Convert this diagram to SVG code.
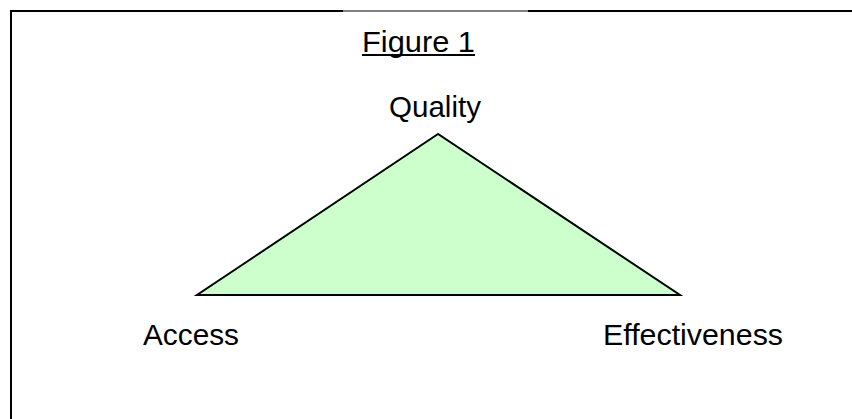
<svg xmlns="http://www.w3.org/2000/svg" width="852" height="419" viewBox="0 0 852 419">
<style>
.lbl{font-family:"Liberation Sans",Arial,sans-serif;font-size:30px;fill:#000}
.frame{fill:none;stroke:#000;stroke-width:2}
</style>
<rect width="852" height="419" fill="#fff"/>
<g id="frame">
<polyline class="frame" points="11,419 11,11 343,11"/>
<line x1="343" y1="11" x2="528" y2="11" stroke="#000" stroke-width="1"/>
<line class="frame" x1="528" y1="11" x2="852" y2="11"/>
</g>
<g id="title">
<text class="lbl" x="362" y="52" textLength="113" lengthAdjust="spacingAndGlyphs">Figure 1</text>
<line x1="362" y1="55" x2="475" y2="55" stroke="#000" stroke-width="2"/>
</g>
<g id="connectors">
<polygon points="438,134 197,295 680,295" fill="#ccffcc" stroke="#000" stroke-width="2" stroke-linejoin="miter"/>
</g>
<g id="quality"><text class="lbl" x="389" y="117" textLength="92" lengthAdjust="spacingAndGlyphs">Quality</text></g>
<g id="access"><text class="lbl" x="143" y="345" textLength="96" lengthAdjust="spacingAndGlyphs">Access</text></g>
<g id="effectiveness"><text class="lbl" x="603" y="345" textLength="180" lengthAdjust="spacingAndGlyphs">Effectiveness</text></g>
</svg>
